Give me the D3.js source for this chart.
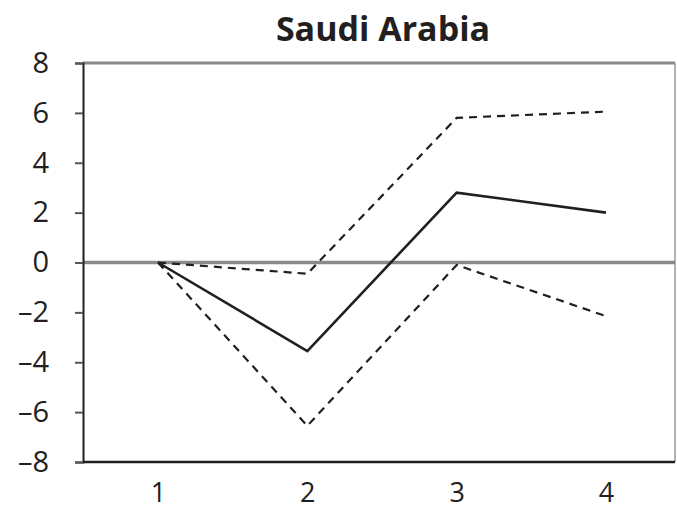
<!DOCTYPE html>
<html>
<head>
<meta charset="utf-8">
<script src="https://cdn.jsdelivr.net/npm/d3@7"></script>
<style>
  html, body { margin: 0; padding: 0; background: #fff; }
  svg { display: block; }
</style>
</head>
<body>
<svg id="chart" width="677" height="512"></svg>
<script>
// Periods on the horizontal axis
const periods = [1, 2, 3, 4];
// Central response and its upper / lower bands
const response = [0, -3.55, 2.8, 2.0];
const upperBand = [0, -0.45, 5.8, 6.05];
const lowerBand = [0, -6.55, -0.1, -2.15];
// Vertical axis ticks
const yTicks = [-8, -6, -4, -2, 0, 2, 4, 6, 8];
const title = "Saudi Arabia";

const svg = d3.select("#chart");
const plot = { left: 83, right: 675, top: 63, bottom: 462 };

const x = d3.scaleLinear().domain([1, 4]).range([158, 606]);
const y = d3.scaleLinear().domain([-8, 8]).range([plot.bottom, plot.top]);

const textColor = "#231f20";
const font = "'Open Sans', sans-serif";

// Title
svg.append("text")
  .attr("x", 383).attr("y", 41)
  .attr("text-anchor", "middle")
  .attr("font-family", font)
  .attr("font-weight", "bold")
  .attr("font-size", 34)
  .attr("fill", textColor)
  .text(title);

// Frame: grey top and right edges
svg.append("line").attr("x1", plot.left).attr("x2", plot.right).attr("y1", plot.top).attr("y2", plot.top)
  .attr("stroke", "#888").attr("stroke-width", 3);
svg.append("line").attr("x1", plot.right).attr("x2", plot.right).attr("y1", plot.top).attr("y2", plot.bottom)
  .attr("stroke", "#999").attr("stroke-width", 1.5);

// Zero line
svg.append("line").attr("x1", plot.left).attr("x2", plot.right).attr("y1", y(0)).attr("y2", y(0))
  .attr("stroke", "#8a8a8a").attr("stroke-width", 3.5);

// Left axis
const yAxis = d3.axisLeft(y).tickValues(yTicks).tickSize(8).tickPadding(26)
  .tickFormat(d => d < 0 ? "\u2013" + Math.abs(d) : String(d));
const gy = svg.append("g").attr("transform", `translate(${plot.left},0)`).call(yAxis);
gy.select(".domain").attr("stroke", textColor).attr("stroke-width", 2);
gy.selectAll(".tick line").attr("stroke", "#555").attr("stroke-width", 2);
gy.selectAll(".tick text")
  .attr("font-family", font)
  .attr("font-size", 29).attr("fill", textColor);

// Bottom axis
const xAxis = d3.axisBottom(x).tickValues(periods).tickSize(0).tickPadding(21)
  .tickFormat(d3.format("d"));
const gx = svg.append("g").attr("transform", `translate(0,${plot.bottom})`).call(xAxis);
gx.select(".domain").attr("d", `M${plot.left},0H${plot.right}`)
  .attr("stroke", textColor).attr("stroke-width", 2.5);
gx.selectAll(".tick text")
  .attr("font-family", font)
  .attr("font-size", 27).attr("fill", textColor);

const line = d3.line().x((d, i) => x(periods[i])).y(d => y(d));

svg.append("path").datum(upperBand).attr("d", line)
  .attr("fill", "none").attr("stroke", textColor).attr("stroke-width", 2.2)
  .attr("stroke-dasharray", "8,6");
svg.append("path").datum(lowerBand).attr("d", line)
  .attr("fill", "none").attr("stroke", textColor).attr("stroke-width", 2.2)
  .attr("stroke-dasharray", "8,6");
svg.append("path").datum(response).attr("d", line)
  .attr("fill", "none").attr("stroke", textColor).attr("stroke-width", 2.6);
</script>
</body>
</html>
